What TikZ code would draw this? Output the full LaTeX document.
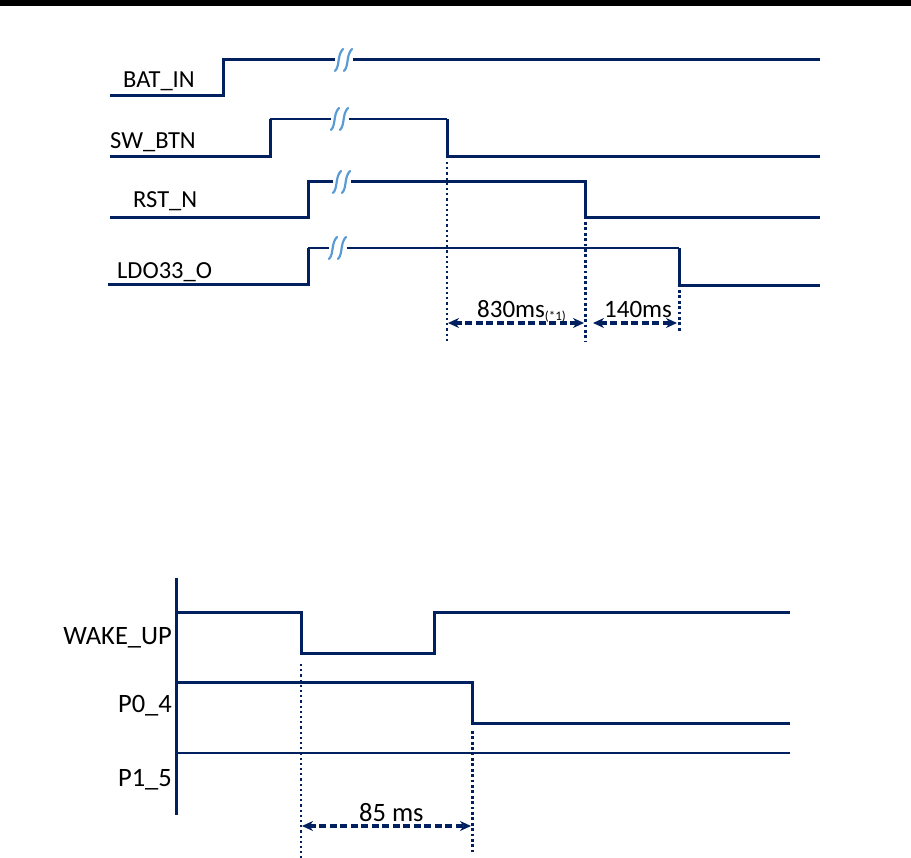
\documentclass[tikz,border=0pt]{standalone}
\usepackage{fontspec}
\setmainfont{Carlito}
\usetikzlibrary{arrows.meta}
\definecolor{navy}{RGB}{0,32,96}
\definecolor{brk}{RGB}{91,155,213}
\tikzset{
  sig/.style={draw=navy, line width=3pt, line join=miter},
  sigthin/.style={draw=navy, line width=1.7pt, line join=miter},
  sigmid/.style={draw=navy, line width=2.3pt, line join=miter},
  vdot/.style={draw=navy, line width=3pt, dash pattern=on 2.8pt off 2.6pt},
  vdotthin/.style={draw=navy, line width=2.2pt, dash pattern=on 2.2pt off 3pt},
  dimline/.style={draw=navy, line width=3.2pt, dash pattern=on 7pt off 3.5pt,
    {Stealth[length=11pt,width=10pt]}-{Stealth[length=11pt,width=10pt]}},
  toplbl/.style={inner sep=0pt, font=\fontsize{24.5}{28}\selectfont, anchor=base west},
  botlbl/.style={inner sep=0pt, font=\fontsize{26.5}{30}\selectfont, anchor=base east},
  dimlbl/.style={inner sep=0pt, anchor=base west},
  brkmark/.style={draw=brk, line width=2.2pt, line cap=round},
  breakmark/.pic={
    \fill[white] (-9,-3.5) rectangle (9,3.5);
    \draw[brkmark] (-9,11) .. controls (-4,6) and (-7,-5) .. (-1,-11);
    \draw[brkmark] (0,11) .. controls (5,6) and (2,-5) .. (8,-11);
  }
}
\begin{document}
\begin{tikzpicture}[x=1pt,y=-1pt]
\useasboundingbox (0,0) rectangle (911,858);
\fill[black] (0,0) rectangle (911,6);

% ---------- top diagram labels ----------
\node[toplbl] (lbat) at (123,88) {BAT\_IN};
\node[toplbl] (lsw)  at (110,149) {SW\_BTN};
\node[toplbl] (lrst) at (133,208) {RST\_N};
\node[toplbl] (lldo) at (117,279) {LDO33\_O};

% key coordinates
\coordinate (swfall) at (447,157);
\coordinate (rstfall) at (585,218);
\coordinate (ldofall) at (679,286);

% BAT_IN
\draw[sig] (110,96) -- (223,96) -- (223,60) -- (820,60);
\pic at (344,60) {breakmark};
% SW_BTN
\draw[sig] (110,157) -- (270,157) -- (270,119);
\draw[sigthin] (270,119) -- (447,119);
\draw[sig] (447,119) -- (swfall) -- (820,157);
\pic at (340,119) {breakmark};
% RST_N
\draw[sig] (110,218) -- (308,218) -- (308,182) -- (585,182) -- (rstfall) -- (820,218);
\pic at (342,182) {breakmark};
% LDO33_O
\draw[sig] (108,285) -- (308,285) -- (308,248);
\draw[sigmid] (308,248) -- (679,248);
\draw[sig] (679,248) -- (ldofall) -- (820,286);
\pic at (338,248) {breakmark};

% dotted markers
\coordinate (d1b) at (447,342);
\coordinate (d2b) at (585,342);
\coordinate (d3b) at (679,332);
\draw[vdotthin] (447,162) -- (d1b);
\draw[vdot] (585,222) -- (d2b);
\draw[vdot] (679,290) -- (d3b);

% dimension arrows
\coordinate (a1l) at (448,323);
\coordinate (a1r) at (584,323);
\coordinate (a2l) at (593,323);
\coordinate (a2r) at (677,323);
\draw[dimline] (a1l) -- (a1r);
\draw[dimline] (a2l) -- (a2r);
\node[dimlbl, font=\fontsize{25}{28}\selectfont] (t830) at (477,318)
  {830ms\raisebox{-3pt}{\fontsize{13}{14}\selectfont(*1)}};
\node[dimlbl, font=\fontsize{25}{28}\selectfont] (t140) at (604,318) {140ms};

% ---------- bottom diagram ----------
\draw[sig] (176,578) -- (176,815);
\node[botlbl] (lwake) at (172,644) {WAKE\_UP};
\node[botlbl] (lp04)  at (172,712) {P0\_4};
\node[botlbl] (lp15)  at (172,786) {P1\_5};

\draw[sig] (176,612) -- (301,612) -- (301,653) -- (434,653) -- (434,612) -- (790,612);
\draw[sig] (176,682) -- (472,682) -- (472,723) -- (790,723);
\draw[sigmid] (176,753) -- (790,753);

\draw[vdotthin] (301,664) -- (301,858);
\draw[vdot] (472,731) -- (472,852);

\coordinate (b1l) at (302,826);
\coordinate (b1r) at (471,826);
\draw[dimline] (b1l) -- (b1r);
\node[dimlbl, font=\fontsize{26.5}{30}\selectfont] (t85) at (359,821) {85 ms};
\end{tikzpicture}
\end{document}
